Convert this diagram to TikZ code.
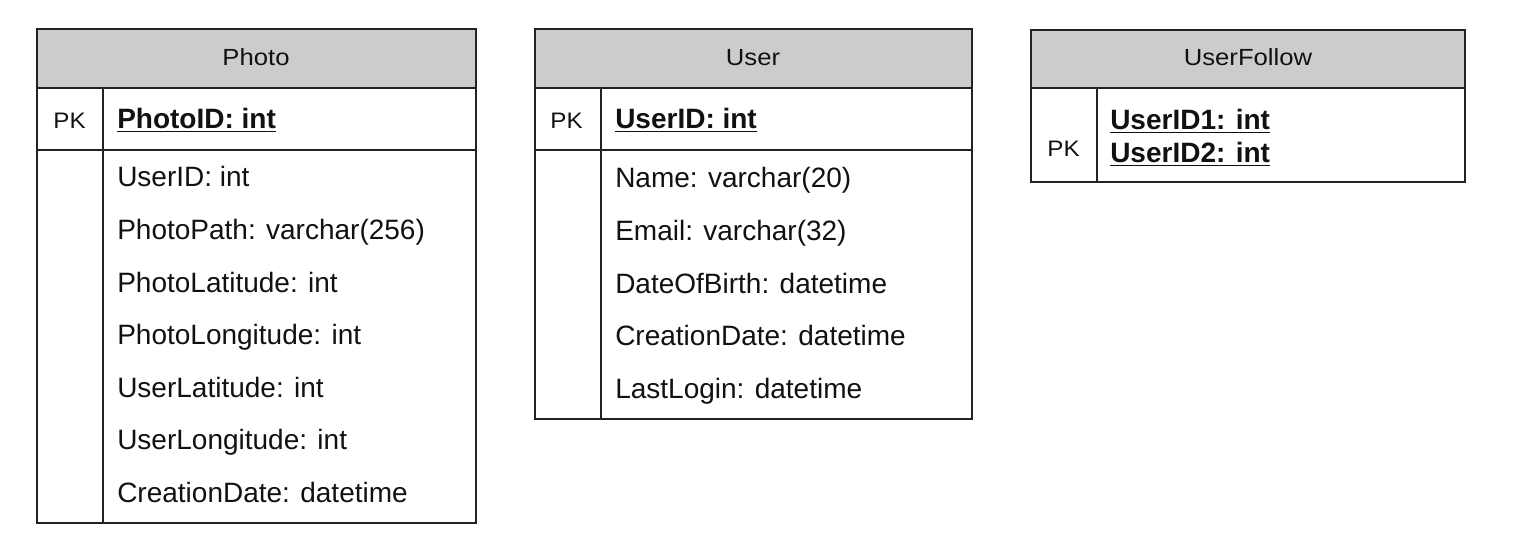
\documentclass[tikz,border=0pt]{standalone}
\usepackage{fontspec}
\setmainfont{Liberation Sans}
\newfontfamily\titlefont[FakeStretch=1.1]{Liberation Sans}
\newfontfamily\pkfont[FakeStretch=1.08]{Liberation Sans}
\definecolor{hdrgray}{HTML}{CCCCCC}
\definecolor{ink}{HTML}{111111}
\definecolor{rule}{HTML}{222222}
\begin{document}
\begin{tikzpicture}[x=0.75pt,y=-0.75pt,
  frame/.style={draw=rule,line width=1.5pt},
  hdrbox/.style={frame,fill=hdrgray},
  title/.style={anchor=base,inner sep=0pt,text=ink,font=\titlefont\fontsize{17.5pt}{20pt}\selectfont},
  field/.style={anchor=base west,inner sep=0pt,text=ink,font=\fontsize{21pt}{24pt}\selectfont},
  keyfield/.style={field,font=\fontsize{21pt}{24pt}\selectfont\bfseries},
  pk/.style={anchor=base,inner sep=0pt,text=ink,font=\pkfont\fontsize{16.8pt}{20pt}\selectfont}]
\useasboundingbox (0,0) rectangle (1520,552);

% ---------- Photo ----------
\coordinate (pA) at (36.5,29.5);
\coordinate (pB) at (475.5,88);
\coordinate (pC) at (36.5,88);
\coordinate (pD) at (475.5,150.5);
\coordinate (pE) at (36.5,150.5);
\coordinate (pF) at (475.5,522.5);
\coordinate (pdT) at (102.5,88);
\coordinate (pdB) at (102.5,522.5);
\filldraw[hdrbox] (pA) rectangle (pB);
\draw[frame] (pC) rectangle (pD);
\draw[frame] (pE) rectangle (pF);
\draw[frame] (pdT) -- (pdB);
\node[title] (photoT) at (256,66) {Photo};
\node[pk] (photoPK) at (69.5,128.5) {PK};
\node[keyfield] (photoID) at (117,129) {\underline{PhotoID: int}};
\node[field] (p1) at (117,187) {UserID: int};
\node[field] (p2) at (117,239.5) {PhotoPath: varchar(256)};
\node[field] (p3) at (117,292) {PhotoLatitude: int};
\node[field] (p4) at (117,344.5) {PhotoLongitude: int};
\node[field] (p5) at (117,397) {UserLatitude: int};
\node[field] (p6) at (117,449.5) {UserLongitude: int};
\node[field] (p7) at (117,502) {CreationDate: datetime};

% ---------- User ----------
\coordinate (uA) at (534.5,29.5);
\coordinate (uB) at (972,88);
\coordinate (uC) at (534.5,88);
\coordinate (uD) at (972,150.5);
\coordinate (uE) at (534.5,150.5);
\coordinate (uF) at (972,419);
\coordinate (udT) at (600.5,88);
\coordinate (udB) at (600.5,419);
\filldraw[hdrbox] (uA) rectangle (uB);
\draw[frame] (uC) rectangle (uD);
\draw[frame] (uE) rectangle (uF);
\draw[frame] (udT) -- (udB);
\node[title] (userT) at (753,66) {User};
\node[pk] (userPK) at (566.5,128.5) {PK};
\node[keyfield] (userID) at (615,129) {\underline{UserID: int}};
\node[field] (u1) at (615,188) {Name: varchar(20)};
\node[field] (u2) at (615,240.5) {Email: varchar(32)};
\node[field] (u3) at (615,293) {DateOfBirth: datetime};
\node[field] (u4) at (615,345.5) {CreationDate: datetime};
\node[field] (u5) at (615,398) {LastLogin: datetime};

% ---------- UserFollow ----------
\coordinate (fA) at (1030.5,30);
\coordinate (fB) at (1465,88);
\coordinate (fC) at (1030.5,88);
\coordinate (fD) at (1465,182.5);
\coordinate (fdT) at (1096.5,88);
\coordinate (fdB) at (1096.5,182.5);
\filldraw[hdrbox] (fA) rectangle (fB);
\draw[frame] (fC) rectangle (fD);
\draw[frame] (fdT) -- (fdB);
\node[title] (followT) at (1248,66) {UserFollow};
\node[pk] (followPK) at (1063.5,157) {PK};
\node[keyfield] (fk1) at (1110,130) {\underline{UserID1: int}};
\node[keyfield] (fk2) at (1110,163) {\underline{UserID2: int}};
\end{tikzpicture}
\end{document}
